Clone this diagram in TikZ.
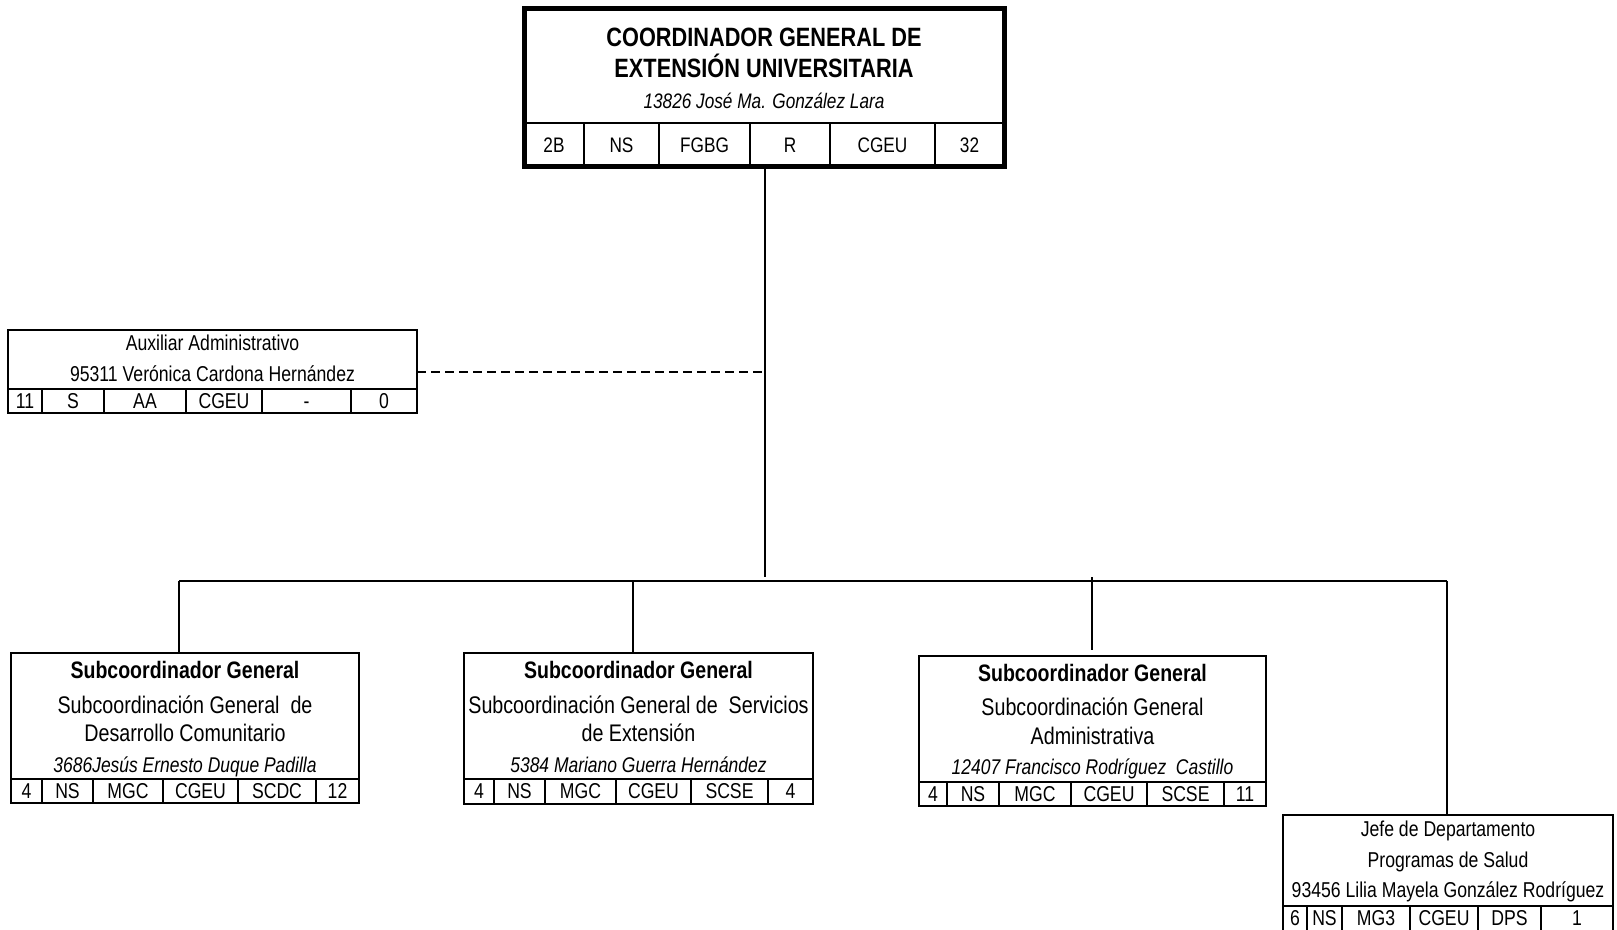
\documentclass[tikz,border=0pt]{standalone}
\usepackage{fontspec}
\setmainfont{Liberation Sans}[FakeStretch=0.82]
\newcommand\fsz[1]{\fontsize{#1}{#1}\selectfont}
\newcommand\cellrow[3]{%
  \foreach \xl/\xr/\t [count=\i] in {#3} {\node[t] (#1\i) at ({(\xl+\xr)/2},#2) {\t};}}
\begin{document}
\begin{tikzpicture}[x=1pt,y=-1pt,
  box/.style={draw, line width=2pt, inner sep=0pt, outer sep=0pt, anchor=north west, rectangle},
  ln/.style={line width=2pt},
  conn/.style={line width=2.6pt},
  dashconn/.style={line width=2pt, dash pattern=on 9pt off 5pt},
  t/.style={anchor=base, inner sep=0pt, outer sep=0pt, font=\fsz{21.5}}]
\useasboundingbox (0,0) rectangle (1617,929);
\fill[white] (0,0) rectangle (1617,929);

% ---------- top box ----------
\node[box, line width=5pt, minimum width=480pt, minimum height=158pt] (top) at (524,8.5) {};
\draw[ln] (524,123) -- (1004,123);
\foreach \x in {584,659,750,830,935} \draw[ln] (\x,123) -- (\x,166);
\node[t, font=\bfseries\fsz{26.5}] (topA) at (764,46) {COORDINADOR GENERAL DE};
\node[t, font=\bfseries\fsz{26.5}] (topB) at (764,77) {EXTENSIÓN UNIVERSITARIA};
\node[t, font=\itshape\fsz{21}] (topC) at (764,108.5) {13826 José Ma. González Lara};
\tikzset{t/.append style={font=\fsz{21}}}
\cellrow{topR}{152.5}{524/584/2B,584/659/NS,659/750/FGBG,750/830/R,830/935/CGEU,935/1004/32}
\tikzset{t/.append style={font=\fsz{21.5}}}

% ---------- auxiliar ----------
\node[box, minimum width=409pt, minimum height=83pt] (aux) at (8,330) {};
\draw[ln] (8,389) -- (417,389);
\foreach \x in {42,104,186,262,351} \draw[ln] (\x,389) -- (\x,413);
\node[t] (auxA) at (212.5,350.5) {Auxiliar Administrativo};
\node[t] (auxB) at (212.5,381.5) {95311 Verónica Cardona Hernández};
\cellrow{auxR}{408.5}{8/42/11,42/104/S,104/186/AA,186/262/CGEU,262/351/-,351/417/0}

% ---------- sub 1 ----------
\node[box, minimum width=348pt, minimum height=150pt] (sub1) at (11,653) {};
\draw[ln] (11,779) -- (359,779);
\foreach \x in {42,93,163,238,316} \draw[ln] (\x,779) -- (\x,803);
\node[t, font=\bfseries\fsz{23.8}] (s1A) at (185,678) {Subcoordinador General};
\node[t, font=\fsz{24}] (s1B) at (185,713) {Subcoordinación General\ \ de};
\node[t, font=\fsz{24}] (s1C) at (185,741) {Desarrollo Comunitario};
\node[t, font=\itshape\fsz{21.3}] (s1D) at (185,772.5) {3686Jesús Ernesto Duque Padilla};
\cellrow{s1R}{798.5}{11/42/4,42/93/NS,93/163/MGC,163/238/CGEU,238/316/SCDC,316/359/12}

% ---------- sub 2 ----------
\node[box, minimum width=349pt, minimum height=151pt] (sub2) at (464,653) {};
\draw[ln] (464,779) -- (813,779);
\foreach \x in {494,545,616,691,768} \draw[ln] (\x,779) -- (\x,804);
\node[t, font=\bfseries\fsz{23.8}] (s2A) at (638.5,678) {Subcoordinador General};
\node[t, font=\fsz{24}] (s2B) at (638.5,713) {Subcoordinación General de\ \ Servicios};
\node[t, font=\fsz{24}] (s2C) at (638.5,741) {de Extensión};
\node[t, font=\itshape\fsz{21.3}] (s2D) at (638.5,772.5) {5384 Mariano Guerra Hernández};
\cellrow{s2R}{798.5}{464/494/4,494/545/NS,545/616/MGC,616/691/CGEU,691/768/SCSE,768/813/4}

% ---------- sub 3 ----------
\node[box, minimum width=347pt, minimum height=150pt] (sub3) at (919,656) {};
\draw[ln] (919,782) -- (1266,782);
\foreach \x in {947,999,1071,1147,1224} \draw[ln] (\x,782) -- (\x,806);
\node[t, font=\bfseries\fsz{23.8}] (s3A) at (1092.5,681) {Subcoordinador General};
\node[t, font=\fsz{24}] (s3B) at (1092.5,715) {Subcoordinación General};
\node[t, font=\fsz{24}] (s3C) at (1092.5,744) {Administrativa};
\node[t, font=\itshape\fsz{21.3}] (s3D) at (1092.5,774.5) {12407 Francisco Rodríguez\ \ Castillo};
\cellrow{s3R}{801.5}{919/947/4,947/999/NS,999/1071/MGC,1071/1147/CGEU,1147/1224/SCSE,1224/1266/11}

% ---------- jefe ----------
\node[box, minimum width=330pt, minimum height=130pt] (jefe) at (1283,815) {};
\draw[ln] (1283,906) -- (1613,906);
\foreach \x in {1307,1342,1410,1478,1541} \draw[ln] (\x,906) -- (\x,945);
\node[t] (jA) at (1448,836.5) {Jefe de Departamento};
\node[t] (jB) at (1448,867.5) {Programas de Salud};
\node[t] (jC) at (1448,897.5) {93456 Lilia Mayela González Rodríguez};
\cellrow{jR}{925.5}{1283/1307/6,1307/1342/NS,1342/1410/MG3,1410/1478/CGEU,1478/1541/DPS,1541/1613/1}

% ---------- connectors ----------
\coordinate (jT) at (765,577);
\coordinate (jA1) at (765,372);
\coordinate (barL) at (179,581);
\coordinate (barR) at (1447,581);
\coordinate (bar2) at (633,581);
\coordinate (bar3) at (1092,577);
\coordinate (bar3e) at (1092,650);
\draw[conn] (top.south -| jT) -- (jT);
\draw[conn] (barL) -- (barR);
\draw[conn] (barL) -- (barL |- sub1.north);
\draw[conn] (bar2) -- (bar2 |- sub2.north);
\draw[conn] (bar3) -- (bar3e);
\draw[conn] (barR) -- (barR |- jefe.north);
\draw[dashconn] (aux.east |- jA1) -- (jA1);
\end{tikzpicture}
\end{document}
